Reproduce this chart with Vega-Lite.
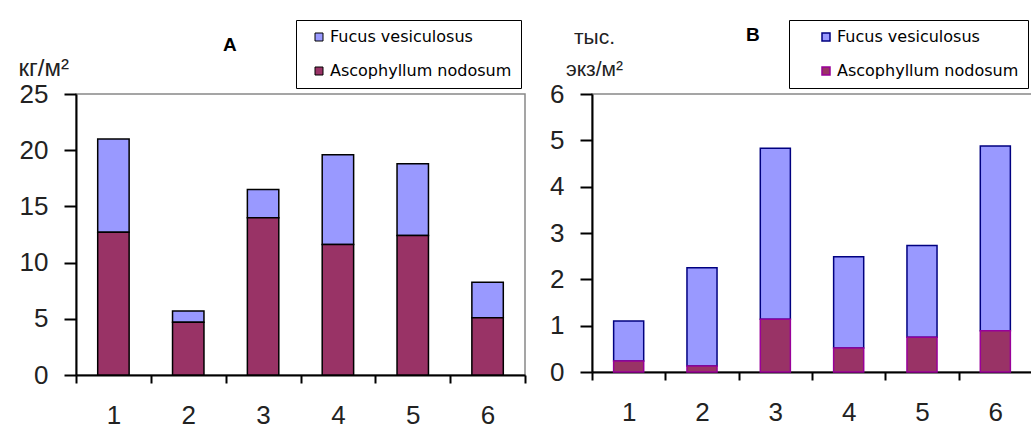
{
  "$schema": "https://vega.github.io/schema/vega-lite/v6.json",
  "background": "white",
  "padding": {"left": 17, "top": 18, "right": 0, "bottom": 0},
  "datasets": {
    "mass": [
      {"site": "1", "species": "Fucus vesiculosus", "value": 8.3},
      {"site": "2", "species": "Fucus vesiculosus", "value": 1.0},
      {"site": "3", "species": "Fucus vesiculosus", "value": 2.5},
      {"site": "4", "species": "Fucus vesiculosus", "value": 8.0},
      {"site": "5", "species": "Fucus vesiculosus", "value": 6.4},
      {"site": "6", "species": "Fucus vesiculosus", "value": 3.15},
      {"site": "1", "species": "Ascophyllum nodosum", "value": 12.7},
      {"site": "2", "species": "Ascophyllum nodosum", "value": 4.7},
      {"site": "3", "species": "Ascophyllum nodosum", "value": 14.0},
      {"site": "4", "species": "Ascophyllum nodosum", "value": 11.6},
      {"site": "5", "species": "Ascophyllum nodosum", "value": 12.4},
      {"site": "6", "species": "Ascophyllum nodosum", "value": 5.1}
    ],
    "density": [
      {"site": "1", "species": "Fucus vesiculosus", "value": 0.86},
      {"site": "2", "species": "Fucus vesiculosus", "value": 2.12},
      {"site": "3", "species": "Fucus vesiculosus", "value": 3.69},
      {"site": "4", "species": "Fucus vesiculosus", "value": 1.97},
      {"site": "5", "species": "Fucus vesiculosus", "value": 1.98},
      {"site": "6", "species": "Fucus vesiculosus", "value": 3.99},
      {"site": "1", "species": "Ascophyllum nodosum", "value": 0.24},
      {"site": "2", "species": "Ascophyllum nodosum", "value": 0.13},
      {"site": "3", "species": "Ascophyllum nodosum", "value": 1.14},
      {"site": "4", "species": "Ascophyllum nodosum", "value": 0.52},
      {"site": "5", "species": "Ascophyllum nodosum", "value": 0.75},
      {"site": "6", "species": "Ascophyllum nodosum", "value": 0.89}
    ]
  },
  "bounds": "flush",
  "spacing": 67,
  "resolve": {
    "scale": {"color": "independent", "stroke": "independent", "y": "independent"},
    "legend": {"color": "independent", "stroke": "independent"}
  },
  "hconcat": [
    {
      "width": 449,
      "height": 281,
      "data": {"name": "mass"},
      "title": {"text": "A", "anchor": "start", "frame": "group", "dx": 147, "dy": 50, "offset": 0, "font": "Liberation Sans", "fontSize": 19, "fontWeight": "bold", "color": "black", "baseline": "alphabetic"},
      "mark": {"type": "bar", "width": {"band": 0.42}, "stroke": "black", "strokeWidth": 1.5},
      "encoding": {
        "x": {
          "field": "site", "type": "ordinal",
          "scale": {"paddingInner": 0, "paddingOuter": 0},
          "axis": {"title": null, "labelAngle": 0, "tickBand": "extent", "tickSize": 8, "tickWidth": 2, "tickColor": "black", "domainColor": "black", "domainWidth": 2, "labelFont": "Liberation Sans", "labelFontSize": 26, "labelColor": "#222", "labelPadding": 19}
        },
        "y": {
          "field": "value", "type": "quantitative", "stack": "zero",
          "scale": {"domain": [0, 25], "nice": false},
          "axis": {"values": [0, 5, 10, 15, 20, 25], "grid": false, "tickSize": 12, "tickWidth": 2, "tickColor": "black", "domainColor": "black", "domainWidth": 2, "labelFont": "Liberation Sans", "labelFontSize": 26, "labelColor": "#222", "labelPadding": 16,
            "title": "кг/м²", "titleAngle": 0, "titleAlign": "left", "titleBaseline": "alphabetic", "titleX": -58, "titleY": -19, "titleFont": "Liberation Sans", "titleFontSize": 24, "titleFontWeight": "normal", "titleColor": "#222"}
        },
        "color": {
          "field": "species", "type": "nominal",
          "scale": {"domain": ["Fucus vesiculosus", "Ascophyllum nodosum"], "range": ["#9999FF", "#993366"]},
          "legend": {"title": null, "orient": "none", "legendX": 220, "legendY": -74, "direction": "vertical", "strokeColor": "black", "fillColor": "white", "padding": 9, "symbolType": "square", "symbolSize": 64, "symbolStrokeColor": "black", "symbolStrokeWidth": 1, "symbolOpacity": 1, "symbolOffset": 6, "labelFont": "DejaVu Sans", "labelFontSize": 16, "labelLimit": 400, "labelColor": "black", "rowPadding": 18, "labelOffset": 3}
        },
        "order": {"field": "species", "type": "nominal", "sort": "ascending"}
      }
    },
    {
      "width": 440,
      "height": 278,
      "data": {"name": "density"},
      "title": {"text": "B", "anchor": "start", "frame": "group", "dx": 154, "dy": 40, "offset": 0, "font": "Liberation Sans", "fontSize": 19, "fontWeight": "bold", "color": "black", "baseline": "alphabetic"},
      "mark": {"type": "bar", "width": {"band": 0.41}, "strokeWidth": 1.5},
      "encoding": {
        "x": {
          "field": "site", "type": "ordinal",
          "scale": {"paddingInner": 0, "paddingOuter": 0},
          "axis": {"title": null, "labelAngle": 0, "tickBand": "extent", "tickSize": 8, "tickWidth": 2, "tickColor": "black", "domainColor": "black", "domainWidth": 2, "labelFont": "Liberation Sans", "labelFontSize": 26, "labelColor": "#222", "labelPadding": 19}
        },
        "y": {
          "field": "value", "type": "quantitative", "stack": "zero",
          "scale": {"domain": [0, 6], "nice": false},
          "axis": {"values": [0, 1, 2, 3, 4, 5, 6], "grid": false, "tickSize": 12, "tickWidth": 2, "tickColor": "black", "domainColor": "black", "domainWidth": 2, "labelFont": "Liberation Sans", "labelFontSize": 26, "labelColor": "#222", "labelPadding": 16,
            "title": ["тыс.", "экз/м²"], "titleAngle": 0, "titleAlign": "center", "titleBaseline": "alphabetic", "titleLineHeight": 32, "titleX": 2, "titleY": -51, "titleFont": "Liberation Sans", "titleFontSize": 21, "titleFontWeight": "normal", "titleColor": "#222"}
        },
        "color": {
          "field": "species", "type": "nominal",
          "scale": {"domain": ["Fucus vesiculosus", "Ascophyllum nodosum"], "range": ["#9999FF", "#993366"]},
          "legend": {"title": null, "orient": "none", "legendX": 197, "legendY": -74, "direction": "vertical", "strokeColor": "black", "fillColor": "white", "padding": 9, "symbolType": "square", "symbolSize": 64, "symbolStrokeWidth": 1.5, "symbolOpacity": 1, "symbolOffset": 20, "labelFont": "DejaVu Sans", "labelFontSize": 16, "labelLimit": 400, "labelColor": "black", "rowPadding": 18, "labelOffset": 3}
        },
        "stroke": {
          "field": "species", "type": "nominal",
          "scale": {"domain": ["Fucus vesiculosus", "Ascophyllum nodosum"], "range": ["#000080", "#990099"]},
          "legend": {"title": null, "orient": "none", "legendX": 197, "legendY": -74, "direction": "vertical", "strokeColor": "black", "fillColor": "white", "padding": 9, "symbolType": "square", "symbolSize": 64, "symbolStrokeWidth": 1.5, "symbolOffset": 20, "labelFont": "DejaVu Sans", "labelFontSize": 16, "labelLimit": 400, "labelColor": "black", "rowPadding": 18, "labelOffset": 3}
        },
        "order": {"field": "species", "type": "nominal", "sort": "ascending"}
      }
    }
  ],
  "config": {
    "font": "Liberation Sans",
    "view": {"stroke": "#888888", "strokeWidth": 1.5}
  }
}
